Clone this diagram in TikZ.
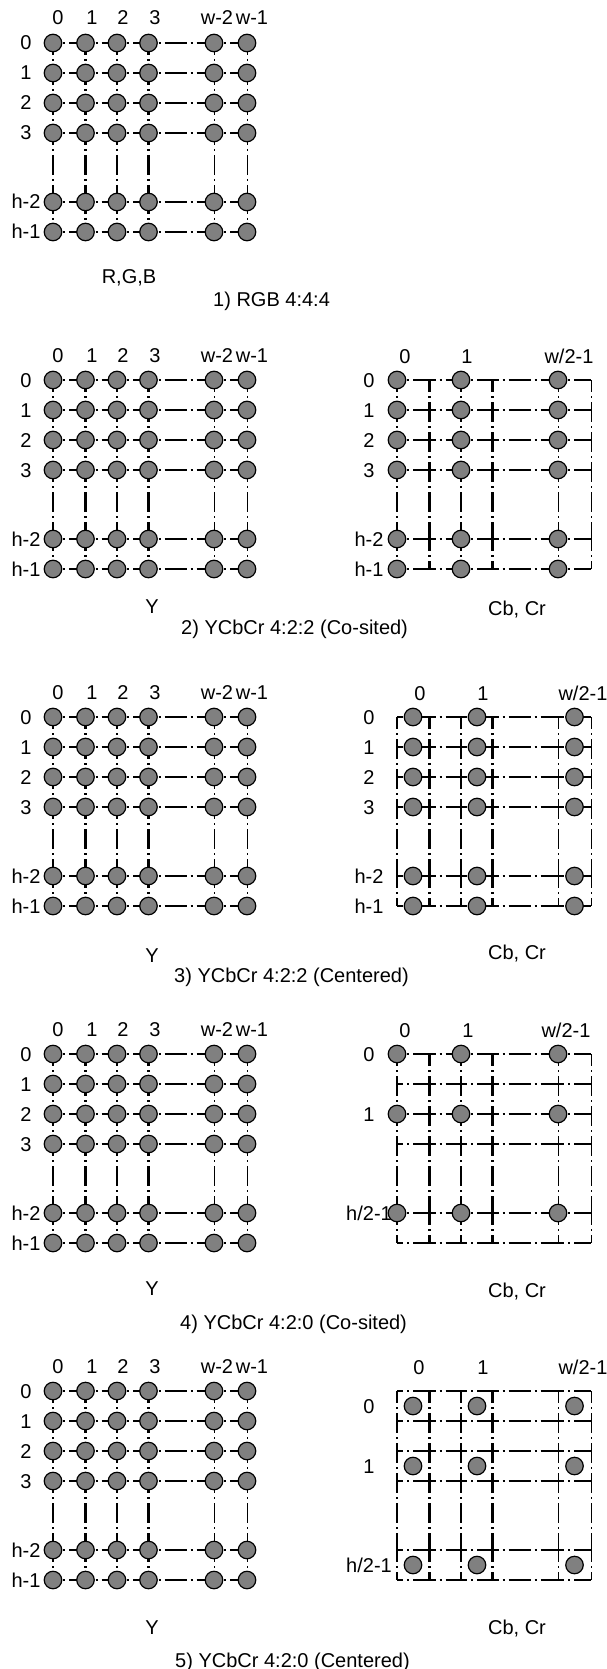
\documentclass[tikz,border=0pt]{standalone}
\usepackage{fontspec}
\setmainfont{Liberation Sans}
\tikzset{
  pix/.style = {circle, draw, fill = gray, line width = 1.2pt, minimum size = 17.5pt, inner sep = 0pt},
  hgrid/.style = {line width = 1.6pt, dash pattern = on 22pt off 4pt on 2pt off 4pt, dash phase = 16pt},
  vgrid/.style = {line width = 2.2pt, dash pattern = on 20pt off 4pt on 2pt off 4pt, dash phase = 8pt},
  lab/.style = {font = \fontsize{20}{23}\selectfont, inner sep = 0pt, text height = 14pt, text depth = 0pt}
}
\newcommand\planegrid[2]{%
  \foreach \x [count = \i from 0] in {53,85.5,117,148.5,214,247}
    \foreach \y [count = \j from 0] in {43,73,103,133,202,232}
      \coordinate (#1-\j-\i) at (\x+#2,\y);
  \foreach \j in {0,...,5}
    \foreach \i [count = \k from 1] in {0,...,4}
      \draw[hgrid] (#1-\j-\i) -- (#1-\j-\k);
  \foreach \i/\w in {0/2.2,1/2.2,2/2.2,3/2.2,4/1,5/1}
    \foreach \j [count = \k from 1] in {0,...,4}
      \draw[vgrid, line width = \w pt] (#1-\j-\i) -- (#1-\k-\i);
}
\newcommand\lumaplane[1]{%
  \planegrid{#1}{0}
  \foreach \t/\x [count = \i from 0] in {0/58,1/92,2/123,3/155,w-2/217,w-1/252}
    \node[lab] (#1-col\i) at (\x,18) {\t};
  \foreach \t/\y [count = \j from 0] in {0/43,1/73,2/103,3/133,h-2/202,h-1/232}
    \node[lab] (#1-row\j) at (26,\y) {\t};
  \foreach \i in {0,...,5}
    \foreach \j in {0,...,5}
      \node[pix] (#1-s\j\i) at (#1-\j-\i) {};
}
\begin{document}
\begin{tikzpicture}[x = 1pt, y = -1pt]
  \useasboundingbox (0,0) rectangle (607,1669);

  \lumaplane{rgb}

  \begin{scope}[yshift = -337pt]
    \lumaplane{ya}
    \planegrid{ca}{344}
    \node[lab] (ca-col0) at (405,19) {0};
    \node[lab] (ca-col1) at (467,19) {1};
    \node[lab] (ca-col2) at (569,19) {w/2-1};
    \foreach \t/\y [count = \j from 0] in {0/43,1/73,2/103,3/133,h-2/202,h-1/232}
      \node[lab] (ca-row\j) at (369,\y) {\t};
    \foreach \i in {0,2,4}
      \foreach \j in {0,...,5}
        \node[pix] (ca-s\j\i) at (ca-\j-\i) {};
  \end{scope}

  \begin{scope}[yshift = -674pt]
    \lumaplane{yb}
    \planegrid{cb}{344}
    \node[lab] (cb-col0) at (420,19) {0};
    \node[lab] (cb-col1) at (483,19) {1};
    \node[lab] (cb-col2) at (583,19) {w/2-1};
    \foreach \t/\y [count = \j from 0] in {0/43,1/73,2/103,3/133,h-2/202,h-1/232}
      \node[lab] (cb-row\j) at (369,\y) {\t};
    \foreach \x [count = \i] in {413,477,574.5}
      \foreach \y [count = \j] in {43,73,103,133,202,232}
        \node[pix] (cb-s\j\i) at (\x,\y) {};
  \end{scope}

  \begin{scope}[yshift = -1011pt]
    \lumaplane{yc}
    \planegrid{cc}{344}
    \node[lab] (cc-col0) at (405,19) {0};
    \node[lab] (cc-col1) at (468,19) {1};
    \node[lab] (cc-col2) at (566,19) {w/2-1};
    \node[lab] (cc-row0) at (369,43) {0};
    \node[lab] (cc-row1) at (369,103) {1};
    \node[lab] (cc-row2) at (369,202) {h/2-1};
    \foreach \i in {0,2,4}
      \foreach \j in {0,2,4}
        \node[pix] (cc-s\j\i) at (cc-\j-\i) {};
  \end{scope}

  \begin{scope}[yshift = -1348pt]
    \lumaplane{yd}
    \planegrid{cd}{344}
    \node[lab] (cd-col0) at (419,19) {0};
    \node[lab] (cd-col1) at (483,19) {1};
    \node[lab] (cd-col2) at (583,19) {w/2-1};
    \node[lab] (cd-row0) at (369,58) {0};
    \node[lab] (cd-row1) at (369,118) {1};
    \node[lab] (cd-row2) at (369,217) {h/2-1};
    \foreach \x [count = \i] in {413,477,574.5}
      \foreach \y [count = \j] in {58,118,217}
        \node[pix] (cd-s\j\i) at (\x,\y) {};
  \end{scope}

  \node[lab] (rgb-name) at (129,277) {R,G,B};
  \node[lab, anchor = west] (title1) at (213,300) {1) RGB 4:4:4};
  \node[lab] (ya-name) at (152,606) {Y};
  \node[lab] (ca-name) at (517,608) {Cb, Cr};
  \node[lab, anchor = west] (title2) at (181,627) {2) YCbCr 4:2:2 (Co-sited)};
  \node[lab] (yb-name) at (152,955) {Y};
  \node[lab] (cb-name) at (517,952) {Cb, Cr};
  \node[lab, anchor = west] (title3) at (174,975) {3) YCbCr 4:2:2 (Centered)};
  \node[lab] (yc-name) at (152,1288) {Y};
  \node[lab] (cc-name) at (517,1290) {Cb, Cr};
  \node[lab, anchor = west] (title4) at (180,1322) {4) YCbCr 4:2:0 (Co-sited)};
  \node[lab] (yd-name) at (152,1627) {Y};
  \node[lab] (cd-name) at (517,1627) {Cb, Cr};
  \node[lab, anchor = west] (title5) at (175,1660) {5) YCbCr 4:2:0 (Centered)};
\end{tikzpicture}
\end{document}
